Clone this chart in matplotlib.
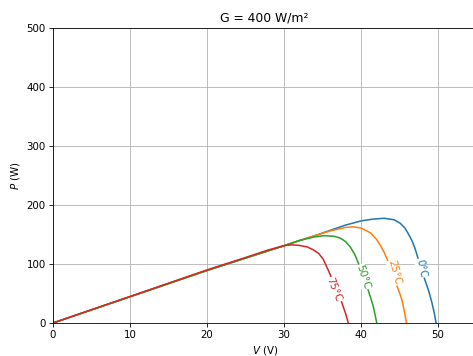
import matplotlib
matplotlib.use("Agg")
import matplotlib.pyplot as plt

title = "G = 400 W/m²"
labels = ["0°C", "25°C", "50°C", "75°C"]
colors = ["tab:blue", "tab:orange", "tab:green", "tab:red"]

v_0 = [0, 10, 20, 25, 30, 34, 38, 40, 41.5, 43, 44.3, 45.1, 45.7, 46.2, 46.6, 47.0, 47.4, 47.8, 48.3, 48.8, 49.2, 49.5, 49.75]
p_0 = [0, 44.5, 89, 110, 131, 148, 166, 173, 176, 177.5, 175, 169, 161, 150, 140, 127, 110, 93, 73, 54, 35, 18, 0]

v_25 = [0, 10, 20, 25, 30, 33, 36, 38, 39, 40, 41.2, 42, 42.5, 43, 43.4, 43.9, 44.4, 44.9, 45.3, 45.6, 45.9]
p_25 = [0, 44.5, 89, 110, 131, 144, 156, 162, 163, 161, 153, 142, 132, 120, 108, 90, 72, 55, 40, 22, 0]

v_50 = [0, 10, 20, 25, 30, 32, 34, 35.2, 36.5, 37.3, 38, 38.6, 39.2, 39.7, 40.2, 40.7, 41.2, 41.6, 42.05]
p_50 = [0, 44.5, 89, 110, 131, 140, 146, 148, 147, 144, 138, 129, 116, 100, 83, 65, 45, 28, 0]

v_75 = [0, 10, 20, 25, 28, 30, 31, 32, 33, 33.8, 34.5, 35.1, 35.8, 36.5, 37.0, 37.5, 38.0, 38.35]
p_75 = [0, 45, 90, 111, 124, 131, 132.5, 131.5, 129, 124, 118, 108, 88, 67, 51, 35, 16, 0]

label_pos = [(47.8, 93, -78), (44.3, 85, -75), (40.3, 78, -72), (36.5, 56, -68)]

fig = plt.figure(figsize=(473/74, 356/74), dpi=74)
ax = fig.add_axes([53/473, 33/356, 423.5/473, 295/356])

series = [(v_0, p_0), (v_25, p_25), (v_50, p_50), (v_75, p_75)]
for (v, p), c in zip(series, colors):
    ax.plot(v, p, color=c, lw=1.5)

for (x, y, rot), lab, c in zip(label_pos, labels, colors):
    ax.text(x, y, lab, color=c, rotation=rot, rotation_mode="anchor",
            ha="center", va="center", fontsize=10,
            bbox=dict(facecolor="white", edgecolor="none", pad=0.5))

ax.set_xlim(0, 55)
ax.set_ylim(0, 500)
ax.set_xticks([0, 10, 20, 30, 40, 50])
ax.set_yticks([0, 100, 200, 300, 400, 500])
ax.grid(True)
ax.set_title(title)
ax.set_xlabel("$V$ (V)")
ax.set_ylabel("$P$ (W)")

fig.savefig("out.png", dpi=74)
